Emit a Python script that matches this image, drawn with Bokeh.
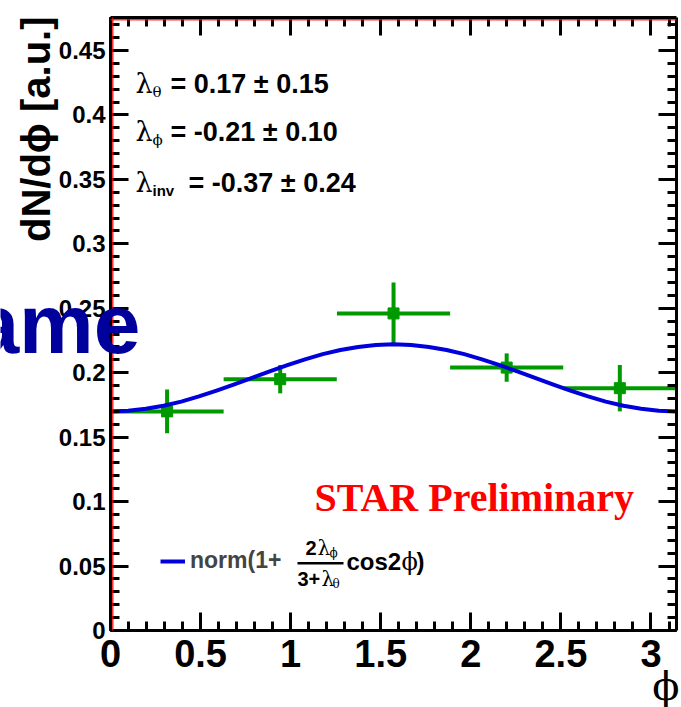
import math
from bokeh.plotting import figure
from bokeh.models import (Range1d, LinearAxis, SingleIntervalTicker, NumeralTickFormatter,
                          CustomJSTickFormatter, Label, BoxAnnotation, ColumnDataSource,
                          Legend, LegendItem)
from bokeh.embed import file_html
from bokeh.resources import INLINE

# ---------------- data ----------------
phi_bin_centers = [0.314, 0.942, 1.571, 2.199, 2.827]
phi_bin_halfwidth = [0.314, 0.314, 0.314, 0.314, 0.314]
dN_dphi = [0.170, 0.195, 0.246, 0.204, 0.188]
dN_dphi_err = [0.017, 0.011, 0.024, 0.011, 0.018]

fit_phi = [0.0000, 0.0982, 0.1963, 0.2945, 0.3927, 0.4909, 0.5890, 0.6872, 0.7854,
           0.8836, 0.9817, 1.0799, 1.1781, 1.2763, 1.3744, 1.4726, 1.5708,
           1.6690, 1.7671, 1.8653, 1.9635, 2.0617, 2.1598, 2.2580, 2.3562,
           2.4544, 2.5525, 2.6507, 2.7489, 2.8471, 2.9452, 3.0434, 3.1416]
fit_dN_dphi = [0.1700, 0.1705, 0.1720, 0.1744, 0.1776, 0.1816, 0.1861, 0.1909, 0.1960,
               0.2011, 0.2059, 0.2104, 0.2144, 0.2176, 0.2200, 0.2215, 0.2220,
               0.2215, 0.2200, 0.2176, 0.2144, 0.2104, 0.2059, 0.2011, 0.1960,
               0.1909, 0.1861, 0.1816, 0.1776, 0.1744, 0.1720, 0.1705, 0.1700]

x_axis_min, x_axis_max = 0.0, 3.1416
y_axis_min, y_axis_max = 0.0, 0.4756
x_tick_step = 0.5
y_tick_step = 0.05

param_subscripts = ["θ", "ϕ", "inv"]
param_values = ["= 0.17  ± 0.15", "= -0.21 ± 0.10", "= -0.37  ± 0.24"]

# ---------------- layout constants (pixels) ----------------
W, H = 681, 707
FL, FR, FT, FB = 110, 676, 17, 630   # edges of the axes box


def X(px):
    return x_axis_min + (px - FL) / (FR - FL) * (x_axis_max - x_axis_min)


def Y(py):
    return y_axis_min + (FB - py) / (FB - FT) * (y_axis_max - y_axis_min)


GREEN = "#009a00"
BLUE = "#0000dd"
SANS = "Liberation Sans, Arial, sans-serif"
SERIF = "DejaVu Serif, Liberation Serif, serif"

# the drawing frame covers the whole canvas; the axes are pinned to the box edges
p = figure(width=W, height=H, x_range=Range1d(X(0), X(W)), y_range=Range1d(Y(H), Y(0)),
           output_backend="svg", toolbar_location=None,
           x_axis_location=None, y_axis_location=None,
           min_border_left=0, min_border_right=0, min_border_top=0, min_border_bottom=0)
p.outline_line_color = None
p.background_fill_color = "white"
p.border_fill_color = "white"
for g in p.grid:
    g.visible = False


def make_axis(step, labels, size, loc, bounds):
    fmt = (NumeralTickFormatter(format="0.[00]") if labels
           else CustomJSTickFormatter(code="return ''"))
    ax = LinearAxis(ticker=SingleIntervalTicker(interval=step, num_minor_ticks=5),
                    formatter=fmt, fixed_location=loc, bounds=bounds)
    ax.axis_line_width = 3
    ax.axis_line_color = "black"
    ax.major_tick_in = 18
    ax.major_tick_out = 0
    ax.minor_tick_in = 9
    ax.minor_tick_out = 0
    ax.major_tick_line_width = 3
    ax.minor_tick_line_width = 3
    ax.major_tick_line_color = "black"
    ax.minor_tick_line_color = "black"
    ax.major_label_text_font = SANS
    ax.major_label_text_font_style = "bold"
    ax.major_label_text_font_size = size
    ax.major_label_text_color = "black"
    if not labels:
        ax.major_label_standoff = 0
    return ax


xbounds = (x_axis_min, x_axis_max)
ybounds = (y_axis_min, y_axis_max)
xb = make_axis(x_tick_step, True, "38px", y_axis_min, xbounds)
xb.major_label_standoff = 9
yl = make_axis(y_tick_step, True, "24px", x_axis_min, ybounds)
yl.major_label_standoff = 5
p.add_layout(xb, "below")
p.add_layout(yl, "left")
p.add_layout(make_axis(x_tick_step, False, "10px", y_axis_max, xbounds), "above")
p.add_layout(make_axis(y_tick_step, False, "10px", x_axis_max, ybounds), "right")

# thin red inner edge lines of the axes box (left and top)
p.add_layout(BoxAnnotation(left=X(111.5), right=X(113), bottom=y_axis_min, top=y_axis_max,
                           fill_color="red", fill_alpha=0.8, line_color=None))
p.add_layout(BoxAnnotation(left=x_axis_min, right=x_axis_max, top=Y(18.5), bottom=Y(20),
                           fill_color="red", fill_alpha=0.8, line_color=None))

# ---------------- data marks ----------------
src = ColumnDataSource(dict(
    x=phi_bin_centers,
    y=dN_dphi,
    xl=[c - h for c, h in zip(phi_bin_centers, phi_bin_halfwidth)],
    xr=[c + h for c, h in zip(phi_bin_centers, phi_bin_halfwidth)],
    yl=[v - e for v, e in zip(dN_dphi, dN_dphi_err)],
    yh=[v + e for v, e in zip(dN_dphi, dN_dphi_err)],
))
p.segment(x0="xl", x1="xr", y0="y", y1="y", source=src, line_color=GREEN, line_width=4)
p.segment(x0="x", x1="x", y0="yl", y1="yh", source=src, line_color=GREEN, line_width=4)
p.scatter(x="x", y="y", source=src, marker="square", size=11, fill_color=GREEN, line_color=GREEN)

fit_r = p.line(fit_phi, fit_dN_dphi, line_color=BLUE, line_width=4, line_join="round")


# ---------------- texts ----------------
def lab(px, py, text, size, font=SANS, style="bold", color="black", align="left", angle=0.0):
    p.add_layout(Label(x=X(px), y=Y(py), text=text, text_font=font, text_font_style=style,
                       text_font_size=size, text_color=color, text_align=align,
                       text_baseline="alphabetic", angle=angle))


# axis titles
lab(35, 16, "dN/dϕ [a.u.]", "40px", align="right", angle=math.pi / 2)
lab(679, 685, "ϕ", "40px", font=SERIF, style="normal", align="right")

# fit parameters
baselines = [83, 131, 182]
value_x = [170, 170, 188]
for i in range(3):
    lab(135, baselines[i], "λ", "27px", font=SERIF, style="normal")
    sub_style = "bold" if param_subscripts[i] == "inv" else "normal"
    sub_font = SANS if param_subscripts[i] == "inv" else SERIF
    lab(152, baselines[i] + 8, param_subscripts[i], "15px", font=sub_font, style=sub_style)
    lab(value_x[i], baselines[i], param_values[i], "27px")

# STAR Preliminary
lab(314, 497, "STAR Preliminary", "40px", font="Liberation Serif, Times New Roman, serif",
    color="red")

# legend
legend = Legend(items=[LegendItem(label="norm(1+", renderers=[fit_r])], location=(160, 133),
                padding=0, margin=0, spacing=0, glyph_width=25, glyph_height=20, label_standoff=5,
                label_text_font=SANS, label_text_font_style="bold", label_text_font_size="23px",
                border_line_color=None, background_fill_alpha=0)
p.add_layout(legend)

lab(305, 547, "2", "20px")
lab(317, 547, "λ", "20px", font=SERIF, style="normal")
lab(329, 552, "ϕ", "12px", font=SERIF, style="normal")
p.add_layout(BoxAnnotation(left=X(297), right=X(343), top=Y(561.5), bottom=Y(564),
                           fill_color="black", fill_alpha=1, line_color=None))
lab(297, 578, "3+", "20px")
lab(321, 578, "λ", "20px", font=SERIF, style="normal")
lab(332, 583, "θ", "12px", font=SERIF, style="normal")
lab(346, 561, "cos2", "24px")
lab(401, 561, "ϕ", "24px", font=SERIF, style="normal")
lab(416, 561, ")", "24px")

# overlaid title fragment at the left edge
lab(140, 323, "ame", "84px", font=SANS, color="#00009c", align="right")

open("out.html", "w").write(file_html(p, INLINE))
